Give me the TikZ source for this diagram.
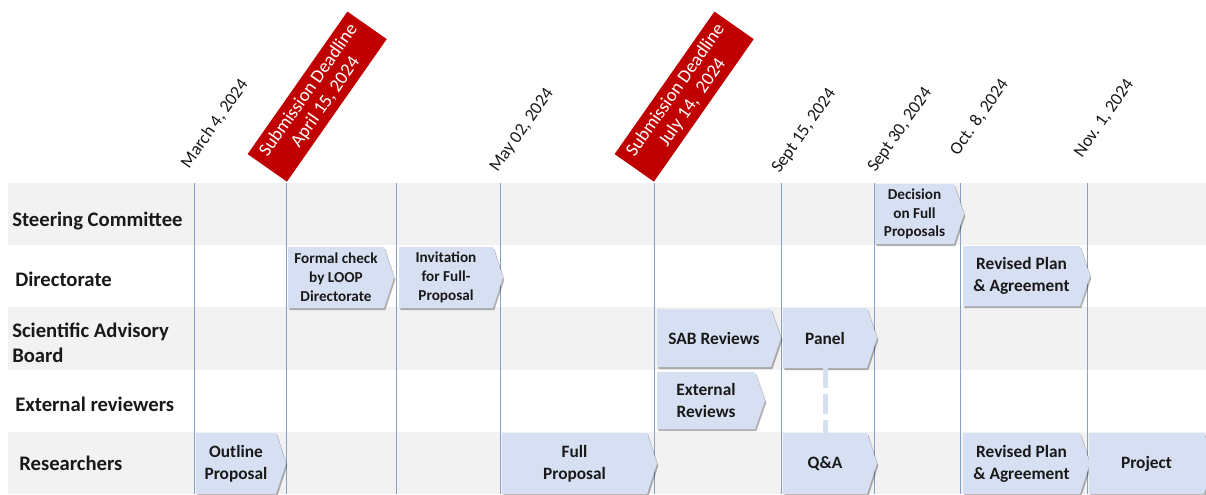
\documentclass[tikz,border=0pt]{standalone}
\usepackage{fontspec}
\setmainfont{Carlito}
\usetikzlibrary{calc,shadows}
\definecolor{bandgray}{RGB}{242,242,242}
\definecolor{chevfill}{RGB}{215,224,242}
\definecolor{gridline}{RGB}{135,160,200}
\definecolor{deadred}{RGB}{192,0,0}
\definecolor{inktext}{RGB}{25,25,25}
\newcommand\chevbox[7][]{%
  \path[chevron] (#3,#4) -- ({#5-10},#4) -- (#5,{(#4+#6)/2}) -- ({#5-10},#6) -- (#3,#6) -- cycle;
  \node[boxtext, #1, minimum width={(#5-#3-10)*0.75pt}, minimum height={(#6-#4)*0.75pt}] (#2) at ({(#3+#5-10)/2},{(#4+#6)/2}) {#7};
}
\begin{document}
\begin{tikzpicture}[x=0.75pt,y=-0.75pt,
  vline/.style={draw=gridline, line width=0.75pt},
  datelbl/.style={rotate=55, anchor=south west, inner sep=0pt, text=inktext, font=\fontsize{13.3}{15}\selectfont},
  deadline/.style={fill=deadred, text=white, rotate=55, anchor=south west, minimum width=130.5pt, minimum height=36pt, inner sep=0pt, align=center, font=\fontsize{14}{15.5}\selectfont},
  rowlbl/.style={anchor=west, inner sep=0pt, align=left, text=inktext, font=\bfseries\fontsize{15.5}{18.75}\selectfont},
  chevron/.style={fill=chevfill, drop shadow={shadow xshift=1pt, shadow yshift=-1.6pt, opacity=0.3, fill=black}},
  boxtext/.style={inner sep=0pt, align=center, text=inktext, font=\bfseries\fontsize{13}{16.5}\selectfont},
  smalltext/.style={font=\bfseries\fontsize{11.4}{14.4}\selectfont},
  dashconn/.style={draw=chevfill, line width=3.75pt, dash pattern=on 15pt off 4.5pt}
]
\useasboundingbox (0,0) rectangle (1206,494);
\fill[white] (0,0) rectangle (1206,494);
% bands
\fill[bandgray] (8,183) rectangle (1206,245);
\fill[bandgray] (8,307) rectangle (1206,370);
\fill[bandgray] (8,432) rectangle (1206,494);
% grid lines
\foreach \x in {194,286,396,500,654,781,874,960,1087}
  \draw[vline] (\x,183) -- (\x,494);
% dates
\node[datelbl] (d1) at (191,171) {March 4, 2024};
\node[datelbl] (d2) at (500,175) {May 02, 2024};
\node[datelbl] (d3) at (782,176) {Sept 15, 2024};
\node[datelbl] (d4) at (878,175) {Sept 30, 2024};
\node[datelbl] (d5) at (960,158) {Oct. 8, 2024};
\node[datelbl] (d6) at (1084,160) {Nov. 1, 2024};
% deadlines
\node[deadline] (dl1) at (287,182) {Submission Deadline\\April 15, 2024};
\node[deadline] (dl2) at (654,182) {Submission Deadline\\July 14,~ 2024};
% row labels
\node[rowlbl] (r1) at (12,221) {Steering Committee};
\node[rowlbl] (r2) at (15,279) {Directorate};
\node[rowlbl] (r3) at (12,343) {Scientific Advisory\\Board};
\node[rowlbl] (r4) at (15,404) {External reviewers};
\node[rowlbl] (r5) at (19,463) {Researchers};
% boxes
\chevbox{outline}{196}{433}{286}{494}{Outline\\Proposal}
\chevbox[smalltext]{formal}{288}{247}{394}{308}{Formal check\\by LOOP\\Directorate}
\chevbox[smalltext]{invit}{399}{247}{503}{308}{Invitation\\for Full-\\Proposal}
\chevbox{full}{502}{433}{657}{494}{Full\\Proposal}
\chevbox{sab}{657}{309}{781}{367}{SAB Reviews}
\chevbox{ext}{657}{372}{765}{429}{External\\Reviews}
\chevbox{panel}{783}{308}{877}{368}{Panel}
\chevbox{qa}{783}{433}{877}{494}{Q\&A}
\chevbox[smalltext, font=\bfseries\fontsize{11.4}{13.9}\selectfont]{decision}{875}{184}{964}{244}{Decision\\on Full\\Proposals}
\chevbox{rev1}{963}{246}{1090}{306}{Revised Plan\\\& Agreement}
\chevbox{rev2}{963}{433}{1090}{494}{Revised Plan\\\& Agreement}
\chevbox{project}{1089}{433}{1214}{494}{Project}
% connector
\draw[dashconn] (panel.south) -- (qa.north);
\end{tikzpicture}
\end{document}
